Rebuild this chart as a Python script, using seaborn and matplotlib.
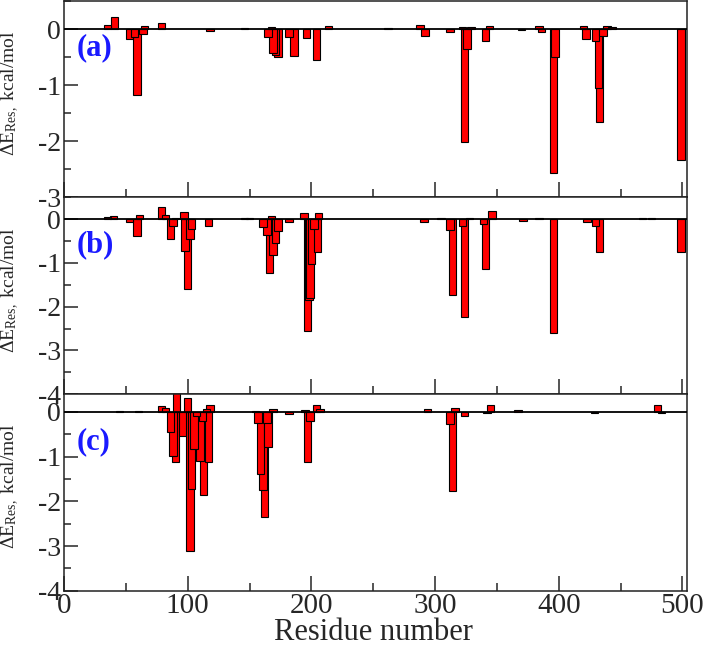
import numpy as np
import pandas as pd
import matplotlib
matplotlib.use("Agg")
import matplotlib.pyplot as plt
import seaborn as sns
from matplotlib.ticker import MultipleLocator

# ---- data ----
res_a = [35, 41, 53, 57, 59, 64, 65, 79, 118, 146, 165, 168, 169, 171, 173,
         182, 186, 196, 204, 214, 262, 288, 292, 312, 322, 324, 326, 329, 341,
         344, 370, 384, 386, 396, 397, 420, 422, 430, 432, 433, 436, 439, 443, 499]
val_a = [0.08, 0.21, -0.18, -0.14, -1.18, -0.08, 0.06, 0.10, -0.04, 0.02, -0.14,
         0.04, -0.42, -0.46, -0.50, -0.14, -0.48, -0.16, -0.55, 0.06, 0.02, 0.08,
         -0.13, -0.06, 0.03, -2.02, -0.36, 0.04, -0.21, 0.06, -0.02, 0.05, -0.06,
         -2.57, -0.49, 0.05, -0.17, -0.22, -1.05, -1.65, -0.12, 0.05, 0.04, -2.34]

res_b = [35, 40, 53, 59, 61, 79, 82, 86, 88, 90, 97, 98, 100, 102, 103, 117, 146,
         150, 161, 164, 166, 168, 169, 171, 173, 182, 194, 197, 198, 199, 200, 202,
         205, 206, 291, 305, 312, 314, 322, 324, 328, 339, 341, 346, 371, 384, 396,
         423, 430, 433, 468, 475, 499]
val_b = [0.06, 0.08, -0.05, -0.38, 0.10, 0.28, 0.10, -0.45, -0.15, 0.03, 0.16,
         -0.73, -1.60, -0.46, -0.23, -0.15, 0.02, 0.03, -0.17, -0.36, -1.24, 0.08,
         -0.82, -0.55, -0.26, -0.07, 0.14, -2.56, -1.84, -1.80, -1.03, -0.22, -0.74,
         0.14, -0.06, 0.03, -0.25, -1.73, -0.15, -2.23, 0.04, -0.10, -1.14, 0.19,
         -0.03, 0.03, -2.60, -0.05, -0.15, -0.75, 0.03, 0.03, -0.74]

res_c = [45, 60, 79, 82, 86, 88, 90, 91, 96, 100, 102, 103, 105, 107, 110, 112,
         113, 115, 117, 118, 155, 157, 159, 161, 162, 164, 165, 169, 182, 195, 197,
         199, 204, 207, 294, 312, 314, 316, 324, 342, 345, 367, 429, 480, 483]
val_c = [0.01, 0.02, 0.13, 0.08, -0.46, -0.98, -1.13, 0.45, -0.55, 0.31, -3.12,
         -1.73, -0.83, -0.10, -1.09, -0.20, -1.86, 0.06, -1.12, 0.16, 0.03, -0.25,
         -1.39, -1.74, -2.36, -0.24, -0.78, 0.06, -0.05, 0.05, -1.13, -0.20, 0.16,
         0.07, 0.07, -0.28, -1.77, 0.09, -0.10, -0.03, 0.16, 0.05, -0.03, 0.16, -0.02]

panel_labels = ["(a)", "(b)", "(c)"]
x_ticks = [0, 100, 200, 300, 400, 500]
x_label = "Residue number"
y_label = "ΔE$_{\\mathrm{Res,}}$ kcal/mol"

# ---- style ----
sns.set_style("ticks")
SERIF = ["Liberation Serif", "DejaVu Serif"]
plt.rcParams["font.family"] = SERIF
plt.rcParams["mathtext.fontset"] = "custom"
plt.rcParams["mathtext.rm"] = "Liberation Serif"
plt.rcParams["mathtext.it"] = "Liberation Serif:italic"
plt.rcParams["mathtext.bf"] = "Liberation Serif:bold"

fig = plt.figure(figsize=(7.05, 6.49), dpi=100)

boxes = [(0.0908, 0.6957, 0.8841, 0.3028),
         (0.0908, 0.3929, 0.8841, 0.3028),
         (0.0908, 0.0898, 0.8841, 0.3031)]
ylims = [(-3, 0.5), (-4, 0.5), (-4, 0.4)]
panels = [(res_a, val_a), (res_b, val_b), (res_c, val_c)]
bar_width = 6.0  # in residue units

for i, ((res, val), box, yl, lab) in enumerate(zip(panels, boxes, ylims, panel_labels)):
    ax = fig.add_axes(box)
    df = pd.DataFrame({"res": res, "dE": val})
    min_gap = np.min(np.diff(np.unique(res)))
    sns.barplot(data=df, x="res", y="dE", native_scale=True,
                width=bar_width / min_gap, color="#ff0000", saturation=1,
                edgecolor="black", linewidth=0.8, errorbar=None, ax=ax)
    # shorter bars drawn on top of taller ones (outlines visible, like the reference)
    for p in ax.patches:
        p.set_zorder(2 - abs(p.get_height()) / 10)
    ax.axhline(0, color="black", lw=1.3, zorder=3)

    yt = list(range(int(yl[0]), 1))
    ax.set_yticks(yt)
    ax.set_yticklabels([str(v) for v in yt], fontsize=20, fontfamily=SERIF)
    ax.set_xticks(x_ticks)
    if i < 2:
        ax.set_xticklabels([])
    else:
        ax.set_xticklabels([str(t) for t in x_ticks], fontsize=21, fontfamily=SERIF)
    ax.set_xlim(0, 504)
    ax.set_ylim(*yl)
    ax.xaxis.set_minor_locator(MultipleLocator(50))
    ax.yaxis.set_minor_locator(MultipleLocator(0.5))
    ax.tick_params(axis="x", which="major", direction="in", length=10.5, width=1.1,
                   bottom=True, top=False, pad=2)
    ax.tick_params(axis="x", which="minor", direction="in", length=6, width=1.1,
                   bottom=True, top=False)
    ax.tick_params(axis="y", which="major", direction="in", length=10, width=1.1,
                   left=True, right=False, pad=2)
    ax.tick_params(axis="y", which="minor", direction="in", length=5, width=1.1,
                   left=True, right=False)
    ax.set_xlabel("")
    ax.set_ylabel("")
    for s in ax.spines.values():
        s.set_linewidth(1.1)
        s.set_color("#222222")
        s.set_visible(True)

    ax.text(0.021, 0.76, lab, transform=ax.transAxes, ha="left", va="center",
            fontsize=22, fontweight="bold", color="#1a1aff")

    # y label per panel
    x0, y0, w, h = box
    fig.text(10 / 705, y0 + h * 0.53, y_label, rotation=90, ha="center",
             va="center", fontsize=14)

fig.text(0.529, 0.014, x_label, ha="center", va="baseline", fontsize=22)

fig.savefig("out.png", dpi=100)
